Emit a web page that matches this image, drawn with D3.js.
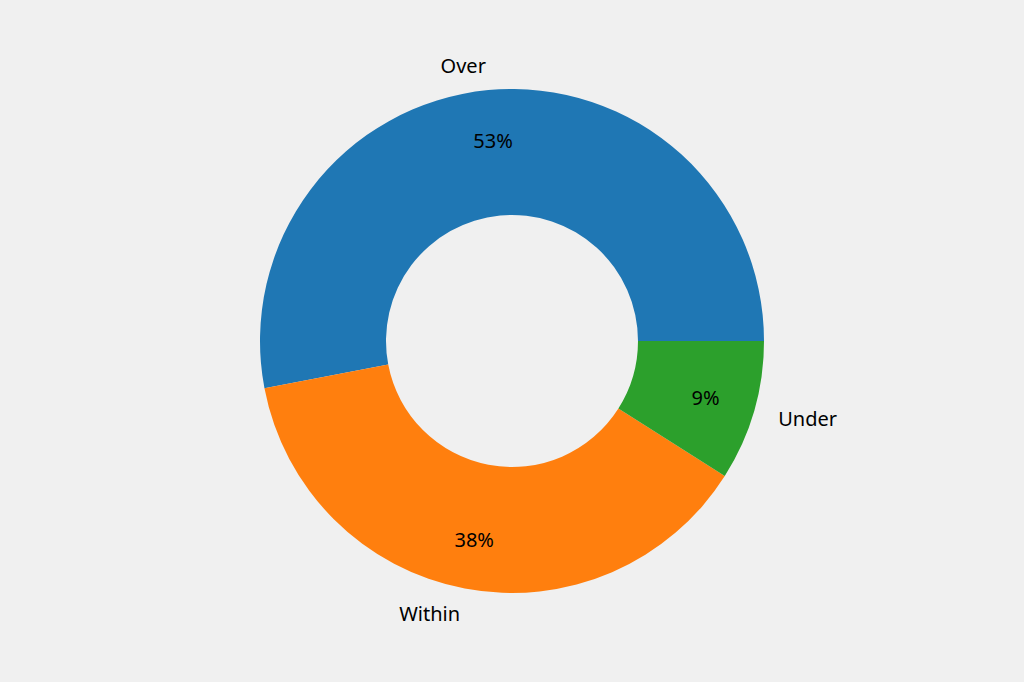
<!DOCTYPE html>
<html>
<head>
<meta charset="utf-8">
<script src="https://cdn.jsdelivr.net/npm/d3@7"></script>
<style>
  body { margin: 0; background: #f0f0f0; }
  text { font-family: "Noto Sans", sans-serif; font-size: 20px; fill: #000; }
</style>
</head>
<body>
<svg id="chart" width="1024" height="682"></svg>
<script>
"use strict";

var labels = ["Over", "Within", "Under"];
var values = [53, 38, 9];
var colors = ["#1f77b4", "#ff7f0e", "#2ca02c"];

var cx = 512, cy = 341, R = 252, r = 126;

var svg = d3.select("#chart");
var g = svg.append("g").attr("transform", "translate(" + cx + "," + cy + ")");

// matplotlib-style: start at 3 o'clock, go counterclockwise
var pie = d3.pie().sort(null)
    .startAngle(Math.PI / 2)
    .endAngle(Math.PI / 2 - 2 * Math.PI);

var arcs = pie(values);
var arc = d3.arc().innerRadius(r).outerRadius(R);

g.selectAll("path.slice")
  .data(arcs)
  .enter().append("path")
    .attr("d", arc)
    .attr("fill", function (d, i) { return colors[i]; });

function pos(d, rad) {
    var a = (d.startAngle + d.endAngle) / 2;
    return [rad * Math.sin(a), -rad * Math.cos(a)];
}

// percentage labels
g.selectAll("text.pct")
  .data(arcs)
  .enter().append("text")
    .attr("x", function (d) { return pos(d, R * 0.8)[0]; })
    .attr("y", function (d) { return pos(d, R * 0.8)[1]; })
    .attr("text-anchor", "middle")
    .attr("dominant-baseline", "central")
    .text(function (d) { return Math.round(d.value) + "%"; });

// category labels
g.selectAll("text.lbl")
  .data(arcs)
  .enter().append("text")
    .attr("x", function (d) { return pos(d, R * 1.1)[0]; })
    .attr("y", function (d) { return pos(d, R * 1.1)[1]; })
    .attr("text-anchor", function (d) { return pos(d, 1)[0] < 0 ? "end" : "start"; })
    .attr("dominant-baseline", "central")
    .text(function (d, i) { return labels[i]; });
</script>
</body>
</html>
